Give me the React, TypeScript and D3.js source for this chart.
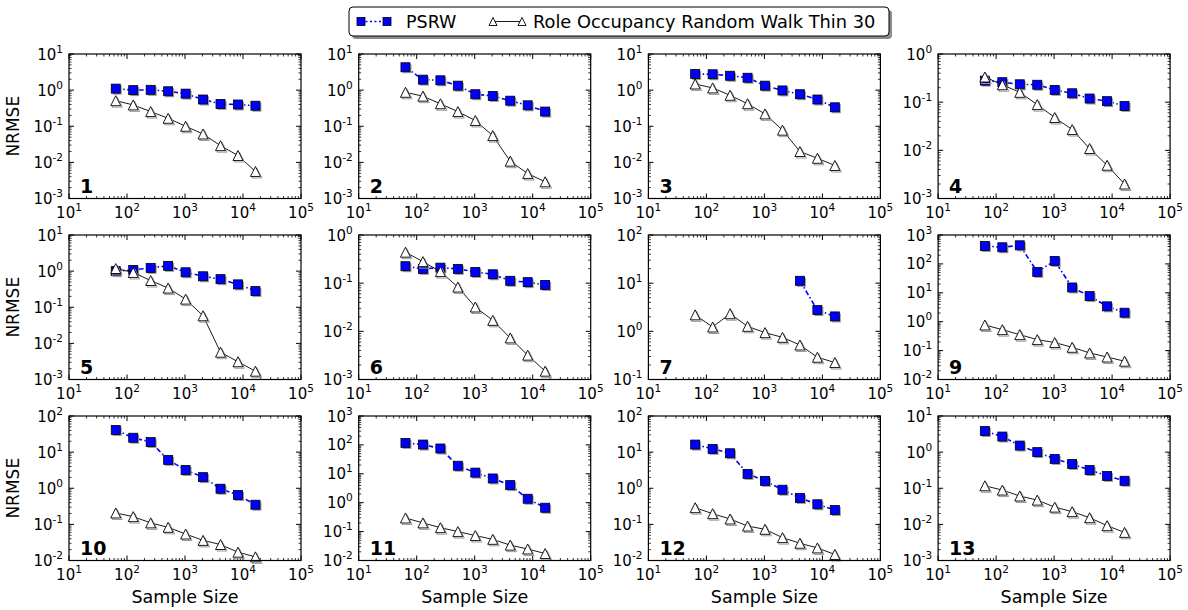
import React from "react";
import * as d3 from "d3";

const sampleSizes = [64, 128, 256, 512, 1024, 2048, 4096, 8192, 16384];
const panelLabels = ["1", "2", "3", "4", "5", "6", "7", "9", "10", "11", "12", "13"];
const yLowExp = [-3, -3, -3, -3, -3, -3, -1, -2, -2, -2, -2, -3];
const yHighExp = [1, 1, 1, 0, 1, 0, 2, 3, 2, 3, 2, 1];
const xTickExps = [1, 2, 3, 4, 5];

const psrw1 = [1.1, 1.0, 1.02, 0.93, 0.8, 0.55, 0.415, 0.4, 0.37];
const psrw2 = [4.3, 1.95, 1.87, 1.33, 0.77, 0.69, 0.51, 0.38, 0.255];
const psrw3 = [2.8, 2.75, 2.5, 2.2, 1.33, 0.98, 0.77, 0.55, 0.335];
const psrw4 = [0.28, 0.26, 0.235, 0.23, 0.18, 0.153, 0.119, 0.105, 0.0835];
const psrw5 = [1.0, 1.08, 1.23, 1.4, 0.93, 0.72, 0.6, 0.43, 0.28];
const psrw6 = [0.225, 0.198, 0.21, 0.198, 0.171, 0.153, 0.112, 0.105, 0.092];
const psrw7 = [null, null, null, null, null, null, 11.2, 2.76, 2.04];
const psrw9 = [417, 376, 440, 53, 127, 15.3, 7.7, 3.4, 2.05];
const psrw10 = [41, 25, 19, 6.1, 3.2, 2.03, 0.97, 0.65, 0.35];
const psrw11 = [117, 103, 75, 19, 11, 6.9, 4.06, 1.37, 0.67];
const psrw12 = [16.2, 12.3, 9.3, 2.5, 1.6, 0.91, 0.54, 0.36, 0.25];
const psrw13 = [3.85, 2.7, 1.52, 1.0, 0.65, 0.47, 0.32, 0.22, 0.161];

const role1 = [0.51, 0.39, 0.255, 0.166, 0.1, 0.061, 0.029, 0.0155, 0.0056];
const role2 = [0.87, 0.68, 0.42, 0.255, 0.144, 0.055, 0.0108, 0.0049, 0.0029];
const role3 = [1.48, 1.15, 0.72, 0.42, 0.22, 0.078, 0.02, 0.013, 0.0082];
const role4 = [0.333, 0.23, 0.16, 0.089, 0.048, 0.027, 0.0109, 0.0049, 0.002];
const role5 = [1.18, 0.92, 0.55, 0.34, 0.168, 0.058, 0.0057, 0.0031, 0.0017];
const role6 = [0.44, 0.28, 0.174, 0.083, 0.032, 0.0169, 0.0073, 0.0032, 0.00149];
const role7 = [2.2, 1.23, 2.32, 1.27, 0.94, 0.75, 0.52, 0.29, 0.225];
const role9 = [0.77, 0.53, 0.356, 0.24, 0.19, 0.13, 0.083, 0.06, 0.043];
const role10 = [0.207, 0.164, 0.11, 0.083, 0.054, 0.036, 0.0277, 0.017, 0.0126];
const role11 = [0.296, 0.2, 0.137, 0.1, 0.073, 0.054, 0.034, 0.025, 0.0174];
const role12 = [0.29, 0.198, 0.141, 0.09, 0.073, 0.043, 0.03, 0.0223, 0.0147];
const role13 = [0.117, 0.089, 0.061, 0.047, 0.03, 0.0225, 0.0153, 0.0092, 0.006];

const psrwSeries = [psrw1, psrw2, psrw3, psrw4, psrw5, psrw6, psrw7, psrw9, psrw10, psrw11, psrw12, psrw13];
const roleSeries = [role1, role2, role3, role4, role5, role6, role7, role9, role10, role11, role12, role13];

const legendLabels = ["PSRW", "Role Occupancy Random Walk Thin 30"];
const xAxisTitle = "Sample Size";
const yAxisTitle = "NRMSE";

const FONT = "DejaVu Sans";
const W = 1188;
const H = 610;
const PANEL_W = 232;
const PANEL_H = 144.5;
const LEFT0 = 69;
const COL_STEP = 289.7;
const TOP0 = 54;
const ROW_STEP = 181;
const SQ = 9;
const TRI = 10;
const SHADOW = "#9a9a9a";

function triPath(cx: number, cy: number, s: number) {
  const h = s / 2;
  return `M${cx},${cy - h}L${cx - h},${cy + h}L${cx + h},${cy + h}Z`;
}

function TickLabel({ x, y, exp, anchor }: { x: number; y: number; exp: number; anchor: string }) {
  return (
    <text x={x} y={y} textAnchor={anchor} fontFamily={FONT} fontSize={15} fill="#000">
      10
      <tspan dy={-7} fontSize={10.5}>{String(exp)}</tspan>
    </text>
  );
}

function Panel({ idx }: { idx: number }) {
  const col = idx % 4;
  const row = Math.floor(idx / 4);
  const left = LEFT0 + col * COL_STEP;
  const top = TOP0 + row * ROW_STEP;
  const x = d3.scaleLog().domain([10, 1e5]).range([left, left + PANEL_W]);
  const lo = yLowExp[idx];
  const hi = yHighExp[idx];
  const y = d3.scaleLog().domain([Math.pow(10, lo), Math.pow(10, hi)]).range([top + PANEL_H, top]);
  const bottom = top + PANEL_H;
  const right = left + PANEL_W;

  const xMajor = xTickExps.map((e) => Math.pow(10, e));
  const xMinor: number[] = [];
  for (let e = 1; e < 5; e++) for (let k = 2; k <= 9; k++) xMinor.push(k * Math.pow(10, e));
  const yMajorExps: number[] = [];
  for (let e = lo; e <= hi; e++) yMajorExps.push(e);
  const yMinor: number[] = [];
  for (let e = lo; e < hi; e++) for (let k = 2; k <= 9; k++) yMinor.push(k * Math.pow(10, e));

  const psrw = psrwSeries[idx];
  const role = roleSeries[idx];
  const line = d3
    .line<[number, number | null]>()
    .defined((d) => d[1] != null)
    .x((d) => x(d[0]))
    .y((d) => y(d[1] as number));
  const psrwPts = sampleSizes.map((s, i) => [s, psrw[i]] as [number, number | null]);
  const rolePts = sampleSizes.map((s, i) => [s, role[i]] as [number, number | null]);
  const psrwValid = psrwPts.filter((d) => d[1] != null) as [number, number][];
  const roleValid = rolePts.filter((d) => d[1] != null) as [number, number][];

  const MAJ = 5;
  const MIN = 2.5;
  return (
    <g>
      {xMajor.map((v, i) => (
        <g key={"xM" + i} stroke="#000" strokeWidth={1}>
          <line x1={x(v)} x2={x(v)} y1={bottom} y2={bottom - MAJ} />
          <line x1={x(v)} x2={x(v)} y1={top} y2={top + MAJ} />
        </g>
      ))}
      {xMinor.map((v, i) => (
        <g key={"xm" + i} stroke="#000" strokeWidth={0.8}>
          <line x1={x(v)} x2={x(v)} y1={bottom} y2={bottom - MIN} />
          <line x1={x(v)} x2={x(v)} y1={top} y2={top + MIN} />
        </g>
      ))}
      {yMajorExps.map((e, i) => (
        <g key={"yM" + i} stroke="#000" strokeWidth={1}>
          <line x1={left} x2={left + MAJ} y1={y(Math.pow(10, e))} y2={y(Math.pow(10, e))} />
          <line x1={right} x2={right - MAJ} y1={y(Math.pow(10, e))} y2={y(Math.pow(10, e))} />
        </g>
      ))}
      {yMinor.map((v, i) => (
        <g key={"ym" + i} stroke="#000" strokeWidth={0.8}>
          <line x1={left} x2={left + MIN} y1={y(v)} y2={y(v)} />
          <line x1={right} x2={right - MIN} y1={y(v)} y2={y(v)} />
        </g>
      ))}
      {xTickExps.map((e, i) => (
        <TickLabel key={"xl" + i} x={x(Math.pow(10, e))} y={bottom + 19.5} exp={e} anchor="middle" />
      ))}
      {yMajorExps.map((e, i) => (
        <TickLabel key={"yl" + i} x={left - 6} y={y(Math.pow(10, e)) + 5.5} exp={e} anchor="end" />
      ))}
      <path d={line(psrwPts) || ""} fill="none" stroke="#0000ff" strokeWidth={1.6} strokeDasharray="5,2.5,1.5,2.5" />
      {psrwValid.map((d, i) => (
        <rect key={"ps" + i} x={x(d[0]) - SQ / 2 + 1.5} y={y(d[1]) - SQ / 2 + 1.5} width={SQ} height={SQ} fill={SHADOW} />
      ))}
      {psrwValid.map((d, i) => (
        <rect key={"p" + i} x={x(d[0]) - SQ / 2} y={y(d[1]) - SQ / 2} width={SQ} height={SQ} fill="#0000ff" stroke="#000" strokeWidth={0.8} />
      ))}
      <path d={line(rolePts) || ""} fill="none" stroke="#000" strokeWidth={0.9} />
      {roleValid.map((d, i) => (
        <path key={"rs" + i} d={triPath(x(d[0]) + 1.5, y(d[1]) + 1.5, TRI)} fill="none" stroke={SHADOW} strokeWidth={1} />
      ))}
      {roleValid.map((d, i) => (
        <path key={"r" + i} d={triPath(x(d[0]), y(d[1]), TRI)} fill="#fff" stroke="#000" strokeWidth={0.9} />
      ))}
      <rect x={left} y={top} width={PANEL_W} height={PANEL_H} fill="none" stroke="#000" strokeWidth={1.2} />
      <text x={left + 11} y={bottom - 6} fontFamily={FONT} fontWeight="bold" fontSize={19} fill="#000">
        {panelLabels[idx]}
      </text>
      {col === 0 && (
        <text
          transform={`translate(${left - 50},${top + PANEL_H / 2}) rotate(-90)`}
          textAnchor="middle"
          fontFamily={FONT}
          fontSize={17}
          fill="#000"
        >
          {yAxisTitle}
        </text>
      )}
      {row === 2 && (
        <text x={left + PANEL_W / 2} y={bottom + 42} textAnchor="middle" fontFamily={FONT} fontSize={17.5} fill="#000">
          {xAxisTitle}
        </text>
      )}
    </g>
  );
}

function Legend() {
  const bx = 349;
  const by = 7;
  const bw = 540;
  const bh = 29;
  const cy = by + bh / 2;
  return (
    <g>
      <rect x={bx + 3} y={by + 3} width={bw} height={bh} rx={4} fill="#8a8a8a" />
      <rect x={bx} y={by} width={bw} height={bh} rx={4} fill="#fff" stroke="#000" strokeWidth={1} />
      <line x1={361} x2={387} y1={cy} y2={cy} stroke="#0000ff" strokeWidth={1.6} strokeDasharray="2,2.5" />
      {[361, 387].map((cx, i) => (
        <rect key={i} x={cx - 4} y={cy - 4} width={8} height={8} fill="#0000ff" stroke="#000" strokeWidth={0.8} />
      ))}
      <text x={406} y={cy + 6} fontFamily={FONT} fontSize={17.5} fill="#000">
        {legendLabels[0]}
      </text>
      <line x1={493} x2={522} y1={cy} y2={cy} stroke="#000" strokeWidth={0.9} />
      {[493, 522].map((cx, i) => (
        <path key={i} d={triPath(cx, cy, 8)} fill="#fff" stroke="#000" strokeWidth={0.9} />
      ))}
      <text x={533} y={cy + 6} fontFamily={FONT} fontSize={17.8} fill="#000">
        {legendLabels[1]}
      </text>
    </g>
  );
}

export default function App() {
  return (
    <svg
      width={W}
      height={H}
      viewBox={`0 0 ${W} ${H}`}
      style={{ position: "absolute", left: 0, top: 0, background: "#fff" }}
    >
      <rect x={0} y={0} width={W} height={H} fill="#fff" />
      {panelLabels.map((_, i) => (
        <Panel key={i} idx={i} />
      ))}
      <Legend />
    </svg>
  );
}
